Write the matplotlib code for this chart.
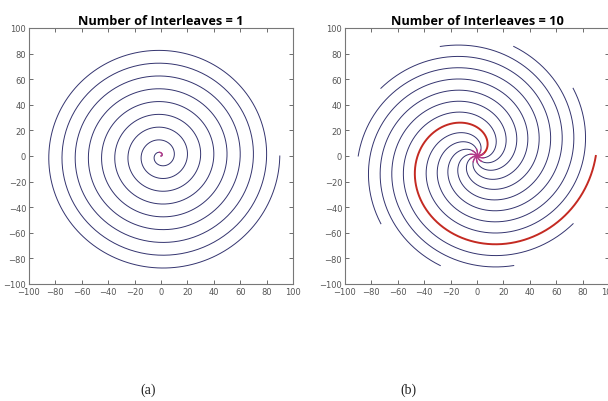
import numpy as np
import matplotlib
matplotlib.use("Agg")
import matplotlib.pyplot as plt

# ---- data ----
titles = ["Number of Interleaves = 1", "Number of Interleaves = 10"]
captions = ["(a)", "(b)"]
interleaves = [1, 10]          # number of spiral arms
turns_per_arm = [9, 1]         # turns made by each arm
r_max = [90, 90]               # outer radius of each arm
highlight_arm = [None, 0]      # arm drawn in red
ticks = [-100, -80, -60, -40, -20, 0, 20, 40, 60, 80, 100]
limits = (-100, 100)

line_color = "#34346f"
red_color = "#c42a22"
center_color = "#b8388a"

fig = plt.figure(figsize=(6.08, 4.02), dpi=100)
W, H = 608, 402
ax_px = [(29, 29, 264, 256), (345, 29, 264, 256)]

for i in range(2):
    x0, y0, w, h = ax_px[i]
    ax = fig.add_axes([x0 / W, 1 - (y0 + h) / H, w / W, h / H])
    n = interleaves[i]
    for k in range(n):
        t = np.linspace(0, 1, 3000)
        r = r_max[i] * t
        th = 2 * np.pi * turns_per_arm[i] * t + 2 * np.pi * k / n
        x, y = r * np.cos(th), r * np.sin(th)
        if highlight_arm[i] == k:
            ax.plot(x, y, color=red_color, lw=1.4, zorder=3)
        else:
            ax.plot(x, y, color=line_color, lw=0.7, zorder=2)
        # centre segment drawn in magenta
        m = t < (0.035 if n == 1 else 0.06)
        ax.plot(x[m], y[m], color=center_color, lw=1.0, zorder=4)
    ax.set_xlim(*limits)
    ax.set_ylim(*limits)
    ax.set_xticks(ticks)
    ax.set_yticks(ticks)
    ax.tick_params(direction="in", length=3, width=0.6, top=True, right=True,
                   labelsize=6, colors="#555555", pad=2)
    for lab in ax.get_xticklabels() + ax.get_yticklabels():
        lab.set_family(["Liberation Sans Narrow", "DejaVu Sans"])
    for s in ax.spines.values():
        s.set_color("#777777")
        s.set_linewidth(0.8)
    ax.set_title(titles[i], fontsize=9.2, fontweight="bold",
                 family=["Open Sans", "DejaVu Sans"], pad=3)

fig.text(148 / W, 1 - 390 / H, captions[0], ha="center", va="center",
         fontsize=10, family=["Liberation Serif", "DejaVu Serif"], color="#222222")
fig.text(408 / W, 1 - 390 / H, captions[1], ha="center", va="center",
         fontsize=10, family=["Liberation Serif", "DejaVu Serif"], color="#222222")

fig.savefig("out.png", dpi=100, facecolor="white")
